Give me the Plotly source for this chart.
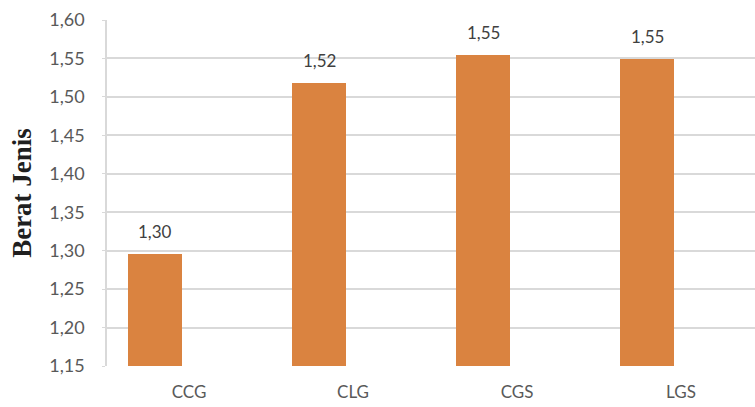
import plotly.graph_objects as go

# Berat jenis per sample
categories = ["CCG", "CLG", "CGS", "LGS"]
berat_jenis = [1.296, 1.518, 1.554, 1.549]
y_ticks = [1.15, 1.20, 1.25, 1.30, 1.35, 1.40, 1.45, 1.50, 1.55, 1.60]

bar_color = "#DA8340"
grid_color = "#D9D9D9"
label_font = "Lato"

fig = go.Figure()
fig.add_trace(go.Bar(
    x=categories,
    y=berat_jenis,
    marker=dict(color=bar_color, line=dict(width=0)),
    width=0.335,
    offset=-0.375,
    showlegend=False,
))

# value labels above each bar
for cat, val in zip(categories, berat_jenis):
    fig.add_annotation(
        x=cat, y=val, xref="x", yref="y",
        text=f"{val:.2f}".replace(".", ","),
        showarrow=False, yanchor="bottom",
        xshift=-34, yshift=10,
        font=dict(family=label_font, size=17, color="#404040"),
    )

fig.update_layout(
    width=755, height=407,
    margin=dict(l=107, r=0, t=20, b=41),
    paper_bgcolor="white", plot_bgcolor="white",
    separators=",.",
    bargap=0,
    xaxis=dict(
        type="category",
        range=[-0.5, 3.451],
        showgrid=False,
        showline=False,
        ticks="",
        tickfont=dict(family=label_font, size=17, color="#595959"),
        ticklabelstandoff=14,
    ),
    yaxis=dict(
        range=[1.15, 1.60],
        tickvals=y_ticks,
        tickformat=".2f",
        showgrid=True, gridcolor=grid_color, gridwidth=1.5,
        showline=True, linecolor=grid_color, linewidth=1.5,
        ticks="outside", tickcolor=grid_color, ticklen=3,
        zeroline=False,
        tickfont=dict(family=label_font, size=18, color="#595959"),
        ticklabelstandoff=14,
        title=dict(
            text="<b>Berat Jenis</b>",
            font=dict(family="Liberation Serif", size=27, color="#1F1F1F"),
            standoff=10,
        ),
    ),
)

fig.write_html("out.html")
